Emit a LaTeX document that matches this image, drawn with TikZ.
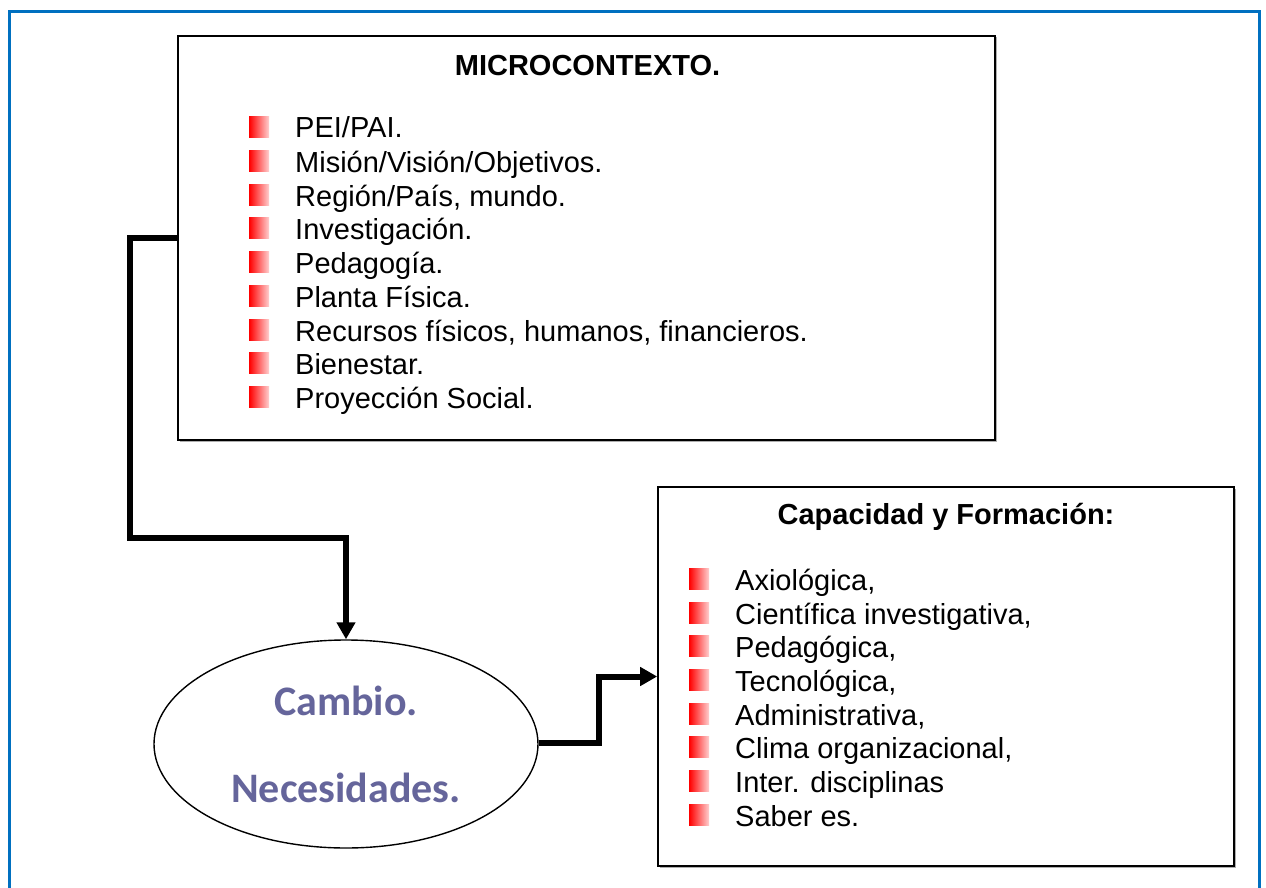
\documentclass[tikz,border=0pt]{standalone}
\usepackage{fontspec}
\setmainfont{Liberation Sans}
\newfontfamily\calibri{Carlito}
\usetikzlibrary{positioning,shapes.geometric,arrows.meta,shadows}
\definecolor{frameblue}{RGB}{0,112,192}
\definecolor{slate}{RGB}{101,101,155}

\begin{document}
\begin{tikzpicture}[x=1pt,y=-1pt]
\tikzstyle{box}=[draw,line width=1.6pt,fill=white,inner sep=0pt,drop shadow={shadow xshift=1.5pt,shadow yshift=-1.5pt,fill=black!45,opacity=.7}]
\tikzstyle{item}=[anchor=base west,inner sep=0pt,font=\fontsize{29}{34}\selectfont]
\tikzstyle{head}=[anchor=base,inner sep=0pt,font=\bfseries\fontsize{29}{34}\selectfont]
\tikzstyle{bul}=[anchor=south west,inner sep=0pt,minimum width=20pt,minimum height=21pt,left color=red,right color=red!18]
\tikzstyle{oval}=[anchor=base,inner sep=0pt,text=slate,font=\calibri\bfseries\fontsize{42}{50}\selectfont]
\tikzstyle{conn}=[line width=6pt,-{Triangle[width=18pt,length=17pt]}]

\clip (0,0) rectangle (1266,888);
\draw[frameblue,line width=3pt] (9.5,11.5) rectangle (1259.5,900);

%boxes and ellipse
\node[box,minimum width=817pt,minimum height=404pt] (micro) at (586.5,238) {};
\node[box,minimum width=576pt,minimum height=379pt] (capa) at (946,676.5) {};
\node[draw,ellipse,line width=1.4pt,fill=white,minimum width=384pt,minimum height=208pt] (need) at (346,744) {};

%text of the upper box
\node[head] (microtitle) at (587.5,76) {MICROCONTEXTO.};
\node[bul] (mb1) at (249,138) {}; \node[item] (m1) at (295,138) {PEI/PAI.};
\node[bul] (mb2) at (249,172) {}; \node[item] (m2) at (295,172) {Misión/Visión/Objetivos.};
\node[bul] (mb3) at (249,206) {}; \node[item] (m3) at (295,206) {Región/País, mundo.};
\node[bul] (mb4) at (249,239) {}; \node[item] (m4) at (295,239) {Investigación.};
\node[bul] (mb5) at (249,273) {}; \node[item] (m5) at (295,273) {Pedagogía.};
\node[bul] (mb6) at (249,307) {}; \node[item] (m6) at (295,307) {Planta Física.};
\node[bul] (mb7) at (249,341) {}; \node[item] (m7) at (295,341) {Recursos físicos, humanos, financieros.};
\node[bul] (mb8) at (249,374) {}; \node[item] (m8) at (295,374) {Bienestar.};
\node[bul] (mb9) at (249,408) {}; \node[item] (m9) at (295,408) {Proyección Social.};

%text of the right box
\node[head] (capatitle) at (946,524) {Capacidad y Formación:};
\node[bul] (cb1) at (689,590) {}; \node[item] (c1) at (735,590) {Axiológica,};
\node[bul] (cb2) at (689,624) {}; \node[item] (c2) at (735,624) {Científica investigativa,};
\node[bul] (cb3) at (689,657) {}; \node[item] (c3) at (735,657) {Pedagógica,};
\node[bul] (cb4) at (689,691) {}; \node[item] (c4) at (735,691) {Tecnológica,};
\node[bul] (cb5) at (689,725) {}; \node[item] (c5) at (735,725) {Administrativa,};
\node[bul] (cb6) at (689,758) {}; \node[item] (c6) at (735,758) {Clima organizacional,};
\node[bul] (cb7) at (689,792) {}; \node[item] (c7) at (735,792) {Inter. disciplinas};
\node[bul] (cb8) at (689,826) {}; \node[item] (c8) at (735,826) {Saber es.};

%text in the ellipse
\node[oval] (cambio) at (346,715) {Cambio.};
\node[oval] (necesidades) at (346,802) {Necesidades.};

%connectors
\coordinate (bendA) at (130,538);
\coordinate (bendB) at (599,742.5);
\draw[conn] (micro.west) -| (bendA) -| (need.north);
\draw[conn] (need.east |- bendB) -- (bendB) |- (capa.west);
\end{tikzpicture}
\end{document}
